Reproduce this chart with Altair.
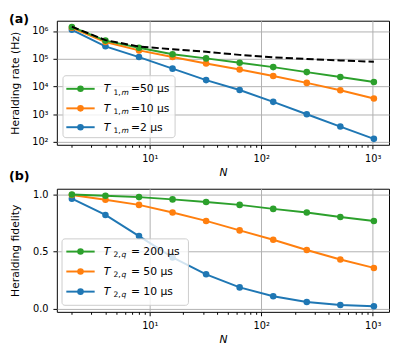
import altair as alt
import pandas as pd

# ---------------- data ----------------
N = [2, 4, 8, 16, 32, 64, 128, 256, 512, 1024]

rate_T1m_50 = [1.4e6, 4.5e5, 2.5e5, 1.45e5, 1.03e5, 7.2e4, 5.0e4, 3.3e4, 2.2e4, 1.45e4]
rate_T1m_10 = [1.3e6, 4.0e5, 2.0e5, 1.15e5, 6.7e4, 4.1e4, 2.4e4, 1.35e4, 7.3e3, 3.7e3]
rate_T1m_2 = [1.1e6, 2.8e5, 1.15e5, 4.4e4, 1.7e4, 7.5e3, 2.8e3, 1.0e3, 3.6e2, 1.3e2]
rate_bound = [1.42e6, 4.7e5, 2.75e5, 2.2e5, 1.78e5, 1.38e5, 1.12e5, 9.8e4, 8.7e4, 7.8e4]

fid_T2q_200 = [1.0, 0.989, 0.977, 0.957, 0.934, 0.909, 0.874, 0.843, 0.803, 0.769]
fid_T2q_50 = [0.995, 0.954, 0.909, 0.843, 0.769, 0.686, 0.604, 0.515, 0.432, 0.358]
fid_T2q_10 = [0.963, 0.821, 0.636, 0.45, 0.302, 0.188, 0.111, 0.06, 0.034, 0.023]

rate_labels = [("1,", "m", "=50 μs"), ("1,", "m", "=10 μs"), ("1,", "m", "=2 μs")]
fid_labels = [("2,", "q", "= 200 μs"), ("2,", "q", "= 50 μs"), ("2,", "q", "= 10 μs")]

GREEN, ORANGE, BLUE = "#2ca02c", "#ff7f0e", "#1f77b4"
FONT = "DejaVu Sans"

x_major = [10, 100, 1000]
x_ticks = sorted([k * 10 ** e for e in range(3) for k in range(2, 10)] + x_major)
is_major = "datum.value == 10 || datum.value == 100 || datum.value == 1000"

x_scale = alt.Scale(type="log", domain=[1.466, 1400], nice=False)


def x_axis():
    return alt.Axis(
        values=x_ticks,
        labelExpr="datum.value == 10 ? '10¹' : datum.value == 100 ? '10²' : datum.value == 1000 ? '10³' : ''",
        tickSize={"condition": {"test": is_major, "value": 4}, "value": 2.5},
        gridOpacity={"condition": {"test": is_major, "value": 1}, "value": 0},
        title="N",
        titleFontStyle="italic",
        labelOverlap=False,
        labelFlush=False,
        labelPadding=5,
        titlePadding=3,
    )


def series(yvals, field, color, yscale, yaxis):
    df = pd.DataFrame({"N": N, field: yvals})
    base = alt.Chart(df)
    enc = dict(
        x=alt.X("N:Q", scale=x_scale, axis=x_axis()),
        y=alt.Y(f"{field}:Q", scale=yscale, axis=yaxis),
    )
    line = base.mark_line(color=color, strokeWidth=2).encode(**enc)
    pts = base.mark_circle(color=color, size=45, opacity=1).encode(**enc)
    return [line, pts]


one = pd.DataFrame({"k": [0]})


def legend(box, rows, labels, colors):
    x1, y1, x2, y2 = box
    layers = [
        alt.Chart(one).mark_rect(
            fill="white", fillOpacity=0.8, stroke="#cccccc", strokeWidth=1, cornerRadius=3
        ).encode(x=alt.value(x1), x2=alt.value(x2), y=alt.value(y1), y2=alt.value(y2))
    ]
    for yc, (sub1, sub2, rest), col in zip(rows, labels, colors):
        layers.append(
            alt.Chart(one).mark_rule(color=col, strokeWidth=2).encode(
                x=alt.value(9.7), x2=alt.value(38.7), y=alt.value(yc)
            )
        )
        layers.append(
            alt.Chart(one).mark_circle(color=col, size=45, opacity=1).encode(
                x=alt.value(24.2), y=alt.value(yc)
            )
        )
        bl = yc + 3.4
        layers.append(
            alt.Chart(one).mark_text(
                text="T", font=FONT, fontStyle="italic", fontSize=11, align="left",
                baseline="alphabetic", color="black"
            ).encode(x=alt.value(48), y=alt.value(bl))
        )
        layers.append(
            alt.Chart(one).mark_text(
                text=sub1, font=FONT, fontSize=7.7, align="left",
                baseline="alphabetic", color="black"
            ).encode(x=alt.value(58), y=alt.value(bl + 2.6))
        )
        layers.append(
            alt.Chart(one).mark_text(
                text=sub2, font=FONT, fontStyle="italic", fontSize=7.7, align="left",
                baseline="alphabetic", color="black"
            ).encode(x=alt.value(66.3), y=alt.value(bl + 2.6))
        )
        layers.append(
            alt.Chart(one).mark_text(
                text=rest, font=FONT, fontSize=11, align="left",
                baseline="alphabetic", color="black"
            ).encode(x=alt.value(75.8), y=alt.value(bl))
        )
    return layers


def panel_label(txt, y):
    return alt.Chart(one).mark_text(
        text=txt, font=FONT, fontWeight="bold", fontSize=13, align="left",
        baseline="top", color="black"
    ).encode(x=alt.value(-49), y=alt.value(y))


# ---------------- top panel ----------------
rate_scale = alt.Scale(type="log", domain=[10 ** 1.9, 10 ** 6.37], nice=False)
rate_axis = alt.Axis(
    values=[1e2, 1e3, 1e4, 1e5, 1e6],
    labelExpr="['10²','10³','10⁴','10⁵','10⁶'][round(log(datum.value)/LN10) - 2]",
    title="Heralding rate (Hz)",
    tickSize=4,
    labelPadding=5,
    titlePadding=12,
)

top_layers = []
top_layers += series(rate_T1m_2, "rate", BLUE, rate_scale, rate_axis)
top_layers += series(rate_T1m_10, "rate", ORANGE, rate_scale, rate_axis)
top_layers += series(rate_T1m_50, "rate", GREEN, rate_scale, rate_axis)
top_layers.append(
    alt.Chart(pd.DataFrame({"N": N, "rate": rate_bound}))
    .mark_line(color="black", strokeWidth=2, strokeDash=[7.4, 3.2])
    .encode(
        x=alt.X("N:Q", scale=x_scale, axis=x_axis()),
        y=alt.Y("rate:Q", scale=rate_scale, axis=rate_axis),
    )
)
top_layers += legend((6.3, 56.3, 121, 119.7), [69.7, 89.7, 109.0], rate_labels, [GREEN, ORANGE, BLUE])
top_layers.append(panel_label("(a)", -8))
top = alt.layer(*top_layers).properties(width=340, height=127)

# ---------------- bottom panel ----------------
fid_scale = alt.Scale(domain=[-0.026, 1.05], nice=False, zero=False)
fid_axis = alt.Axis(
    values=[0.0, 0.5, 1.0],
    format=".1f",
    title="Heralding fidelity",
    tickSize=4,
    labelPadding=5,
    titlePadding=12,
)

bot_layers = []
bot_layers += series(fid_T2q_10, "fid", BLUE, fid_scale, fid_axis)
bot_layers += series(fid_T2q_50, "fid", ORANGE, fid_scale, fid_axis)
bot_layers += series(fid_T2q_200, "fid", GREEN, fid_scale, fid_axis)
bot_layers += legend((5.3, 51.3, 134.7, 119.3), [64.3, 84.7, 105.3], fid_labels, [GREEN, ORANGE, BLUE])
bot_layers.append(panel_label("(b)", -19))
bottom = alt.layer(*bot_layers).properties(width=340, height=126)

chart = (
    alt.vconcat(top, bottom, spacing=45, bounds="flush")
    .properties(padding={"left": 0, "top": 0, "right": 0, "bottom": 0})
    .configure_view(stroke="black", strokeWidth=1)
    .configure_axis(
        domain=False,
        grid=True,
        gridColor="#b0b0b0",
        gridWidth=1,
        tickColor="black",
        tickWidth=1,
        labelColor="black",
        titleColor="black",
        labelFont=FONT,
        titleFont=FONT,
        labelFontSize=10,
        titleFontSize=11,
        titleFontWeight="normal",
    )
)

chart.save("out.html", embed_options={"renderer": "svg", "actions": False})
